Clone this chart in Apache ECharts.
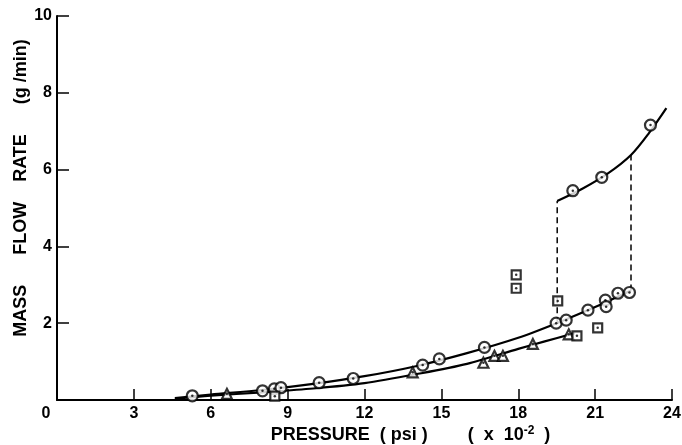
<!DOCTYPE html>
<html>
<head>
<meta charset="utf-8">
<script src="https://cdn.jsdelivr.net/npm/echarts@6/dist/echarts.min.js"></script>
<style>
  html, body { margin: 0; padding: 0; background: #fff; }
  #chart { width: 682px; height: 445px; }
</style>
</head>
<body>
<div id="chart"></div>
<script>
const circlePts = [[5.28,0.11],[8.02,0.24],[8.48,0.29],[8.74,0.32],[10.23,0.45],[11.56,0.56],[14.27,0.91],[14.92,1.07],[16.68,1.37],[19.48,2.0],[19.87,2.08],[20.72,2.34],[21.4,2.6],[21.43,2.43],[21.89,2.78],[22.34,2.8],[20.13,5.45],[21.26,5.8],[23.16,7.16]];
const trianglePts = [[6.63,0.16],[13.88,0.72],[16.64,0.97],[17.07,1.15],[17.4,1.15],[18.57,1.46],[19.97,1.71]];
const squarePts = [[8.5,0.1],[17.92,3.26],[17.92,2.91],[19.54,2.58],[20.29,1.67],[21.1,1.88]];

// fitted curves
const circleCurve = [[4.6,0.05],[6,0.14],[8,0.26],[10,0.42],[12,0.62],[14,0.88],[16,1.22],[18,1.62],[19.5,2.0],[21,2.42],[22.4,2.85]];
const triangleCurve = [[4.6,0.03],[6,0.11],[8,0.2],[10,0.3],[12,0.44],[14,0.67],[16,0.94],[18,1.33],[19,1.52],[20.2,1.74]];
const upperCurve = [[19.52,5.18],[20.5,5.5],[21.5,5.9],[22.4,6.38],[23.1,6.95],[23.78,7.6]];

// jumps (dashed)
const jumpA = [[19.52,2.0],[19.52,5.18]];
const jumpB = [[22.4,2.85],[22.4,6.38]];

const xTicks = [0, 3, 6, 9, 12, 15, 18, 21, 24];
const yTicks = [0, 2, 4, 6, 8, 10];

const font = 'Liberation Sans';
const myChart = echarts.init(document.getElementById('chart'));

const lineStyle = { color: '#000', width: 2.2 };
const markerStyle = { color: '#fff', borderColor: '#000', borderWidth: 2.2 };

const option = {
  animation: false,
  backgroundColor: '#fff',
  grid: { left: 57, right: 10, top: 16, bottom: 45, outerBoundsMode: 'none' },
  xAxis: {
    type: 'value',
    min: 0, max: 24, interval: 3,
    name: '{a|PRESSURE  ( psi )        (  x  10}{s|-2}{a|  )}',
    nameLocation: 'middle',
    nameGap: 25,
    nameMoveOverlap: false,
    nameTextStyle: {
      padding: [0, 0, 0, 92],
      rich: {
        a: { fontFamily: font, fontSize: 18, fontWeight: 'bold', color: '#000' },
        s: { fontFamily: font, fontSize: 12, fontWeight: 'bold', color: '#000', verticalAlign: 'top', padding: [0, 0, 9, 0] }
      }
    },
    axisLine: { lineStyle: { color: '#000', width: 2 } },
    axisTick: { inside: true, length: 11, lineStyle: { color: '#000', width: 1.5 } },
    axisLabel: {
      margin: 6,
      fontFamily: font, fontSize: 16, fontWeight: 'bold', color: '#000',
      formatter: v => (xTicks.indexOf(v) === 0 ? '{z|' + v + '}' : String(v)),
      rich: { z: { fontFamily: font, fontSize: 16, fontWeight: 'bold', color: '#000', padding: [0, 22, 0, 0] } }
    },
    splitLine: { show: false }
  },
  yAxis: {
    type: 'value',
    min: 0, max: 10, interval: 2,
    name: 'MASS      FLOW    RATE      (g /min)',
    nameLocation: 'middle',
    nameGap: 27,
    nameMoveOverlap: false,
    nameRotate: 90,
    nameTextStyle: { fontFamily: font, fontSize: 18, fontWeight: 'bold', color: '#000', padding: [0, 0, 0, 40] },
    axisLine: { show: true, lineStyle: { color: '#000', width: 2 } },
    axisTick: { show: true, inside: true, length: 12, lineStyle: { color: '#000', width: 1.5 } },
    axisLabel: {
      margin: 5,
      fontFamily: font, fontSize: 16, fontWeight: 'bold', color: '#000',
      formatter: v => (v === yTicks[0] ? '' : String(v))
    },
    splitLine: { show: false }
  },
  series: [
    { type: 'line', data: circleCurve, smooth: 0.3, showSymbol: false, lineStyle: lineStyle, z: 2 },
    { type: 'line', data: triangleCurve, smooth: 0.3, showSymbol: false, lineStyle: lineStyle, z: 2 },
    { type: 'line', data: upperCurve, smooth: 0.3, showSymbol: false, lineStyle: lineStyle, z: 2 },
    { type: 'line', data: jumpA, showSymbol: false, lineStyle: { color: '#000', width: 1.5, type: [6, 4] }, z: 1 },
    { type: 'line', data: jumpB, showSymbol: false, lineStyle: { color: '#000', width: 1.5, type: [6, 4] }, z: 1 },
    { type: 'scatter', data: circlePts, symbol: 'circle', symbolSize: 11, itemStyle: markerStyle, z: 3 },
    { type: 'scatter', data: trianglePts, symbol: 'triangle', symbolSize: 10, itemStyle: markerStyle, z: 3 },
    { type: 'scatter', data: squarePts, symbol: 'rect', symbolSize: 9, itemStyle: markerStyle, z: 3 },
    { type: 'scatter', data: circlePts.concat(trianglePts, squarePts), symbol: 'circle', symbolSize: 2.5, itemStyle: { color: '#000' }, z: 4 }
  ]
};
option && myChart.setOption(option);
</script>
</body>
</html>
